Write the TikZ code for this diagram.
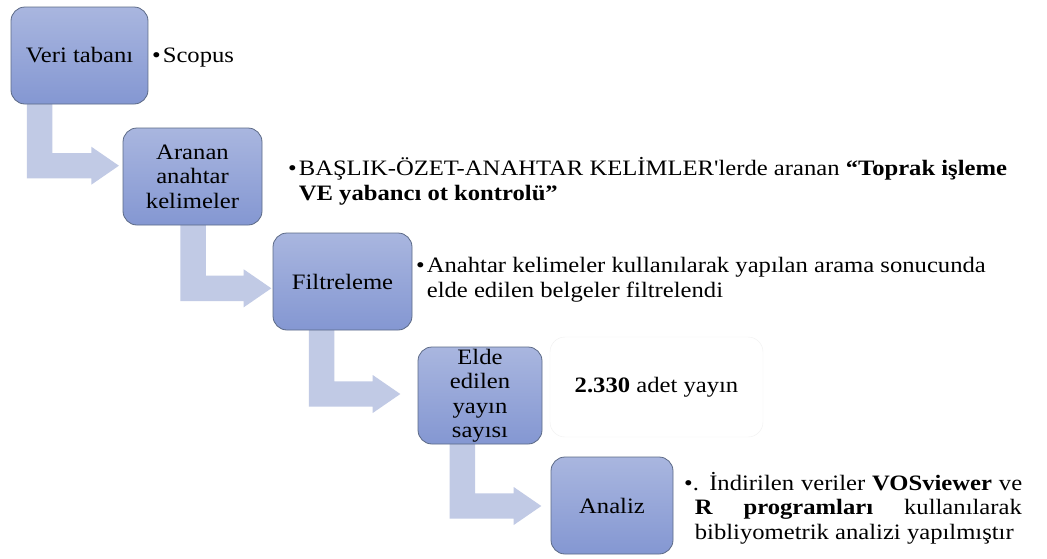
\documentclass[tikz,border=0pt]{standalone}
\usepackage{fontspec}
\setmainfont{Liberation Serif}[FakeStretch=1.12, Ligatures=TeXOff]
\usetikzlibrary{calc}
\definecolor{boxtop}{HTML}{A9B6DF}
\definecolor{boxbot}{HTML}{8497D2}
\definecolor{boxline}{HTML}{5C6A86}
\definecolor{arrfill}{HTML}{C1CAE5}
\definecolor{faint}{HTML}{F0F0F0}
\tikzset{
  stepbox/.style={draw=boxline, line width=0.8pt, rounded corners=14pt,
    top color=boxtop, bottom color=boxbot, minimum height=97pt,
    align=center, inner sep=0pt, text=black,
    font=\fontsize{22}{24.5}\selectfont},
  note/.style={anchor=base west, align=left, inner sep=0pt,
    font=\fontsize{22}{24.5}\selectfont},
  bentarrowfill/.style={fill=arrfill, draw=none},
}
% #1 from node, #2 to node, #3 stem offset, #4 tip shift
\newcommand\bentarr[4]{%
  \coordinate (s-#1) at ([xshift=#3pt]#1.south west);
  \coordinate (t-#1) at ([shift={#4}]#2.west);
  \fill[bentarrowfill] let \p1=(s-#1), \p2=(t-#1) in
    (\x1,\y1+1pt) -- (\x1+25.5pt,\y1+1pt) -- (\x1+25.5pt,\y2+12.7pt)
    -- (\x2-27.6pt,\y2+12.7pt) -- (\x2-27.6pt,\y2+19pt) -- (\x2,\y2)
    -- (\x2-27.6pt,\y2-19pt) -- (\x2-27.6pt,\y2-12.7pt)
    -- (\x1,\y2-12.7pt) -- cycle;}
\begin{document}
\begin{tikzpicture}[x=1pt,y=-1pt]
\useasboundingbox (0,0) rectangle (1047,558);
\fill[white] (0,0) rectangle (1047,558);
% box frames (invisible, for arrow anchors)
\path (79.5,55.5) node[stepbox, minimum width=137pt, opacity=0] (b1) {};
\path (192.5,176.5) node[stepbox, minimum width=139pt, opacity=0] (b2) {};
\path (342.5,281.5) node[stepbox, minimum width=139pt, opacity=0] (b3) {};
\path (480,395.5) node[stepbox, minimum width=124pt, opacity=0] (b4) {};
\path (612,505.5) node[stepbox, minimum width=122pt, opacity=0] (b5) {};
% arrows
\bentarr{b1}{b2}{16.3}{(-3.7,-10.8)}
\bentarr{b2}{b3}{57.7}{(-1.3,6.8)}
\bentarr{b3}{b4}{36.3}{(-17.3,-1.5)}
\bentarr{b4}{b5}{32}{(-9.3,0.5)}
% visible boxes
\node[stepbox, minimum width=137pt] (v1) at (b1) {Veri tabanı};
\node[stepbox, minimum width=139pt] (v2) at (b2) {Aranan\\anahtar\\kelimeler};
\node[stepbox, minimum width=139pt] (v3) at (b3) {Filtreleme};
\node[stepbox, minimum width=124pt] (v4) at (b4) {Elde\\edilen\\yayın\\sayısı};
\node[stepbox, minimum width=122pt] (v5) at (b5) {Analiz};
% texts (base anchor = baseline of the last line)
\node[note] (n1) at (152,62) {•\hspace{2pt}Scopus};
\node[note] (n2) at (288,200) {•\hspace{2pt}BAŞLIK-ÖZET-ANAHTAR KELİMLER'lerde aranan \textbf{“Toprak işleme}\\
  \phantom{•}\hspace{2pt}\textbf{VE yabancı ot kontrolü”}};
\node[note] (n3) at (416,297) {•\hspace{2pt}Anahtar kelimeler kullanılarak yapılan arama sonucunda\\
  \phantom{•}\hspace{2pt}elde edilen belgeler filtrelendi};
\node[draw=faint, rounded corners=15pt, minimum width=213pt, minimum height=100pt,
  inner sep=0pt, font=\fontsize{22}{24.5}\selectfont] (n4) at (656.5,387) {\textbf{2.330} adet yayın};
\node[note] (n5) at (684,539) {\makebox[338pt][s]{•. İndirilen veriler \textbf{VOSviewer} ve}\\
  \phantom{•}\hspace{2pt}\makebox[327pt][s]{\textbf{R programları} kullanılarak}\\
  \phantom{•}\hspace{2pt}bibliyometrik analizi yapılmıştır};
\end{tikzpicture}
\end{document}
